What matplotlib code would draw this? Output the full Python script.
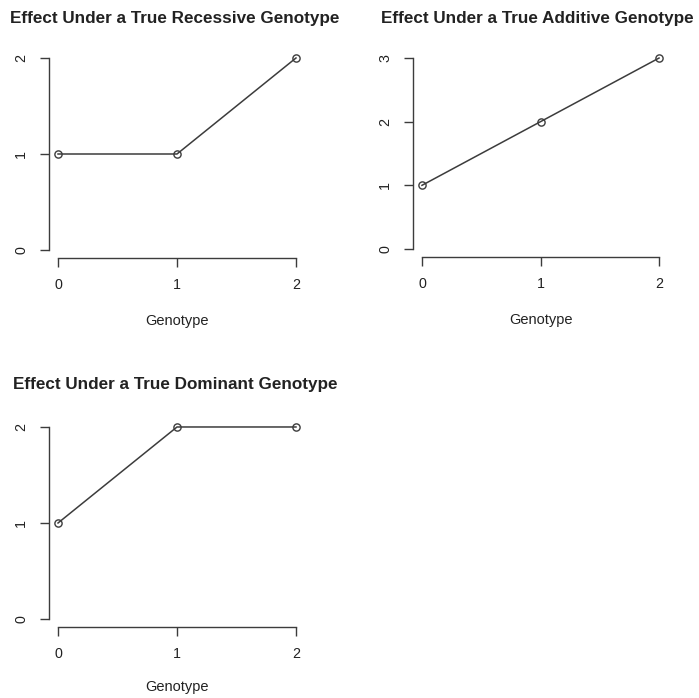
import matplotlib
matplotlib.use("Agg")
import matplotlib.pyplot as plt

plt.rcParams['font.family'] = ['Liberation Sans', 'DejaVu Sans']

genotype = [0, 1, 2]
recessive = [1, 1, 2]
additive = [1, 2, 3]
dominant = [1, 2, 2]

titles = ["Effect Under a True Recessive Genotype",
          "Effect Under a True Additive Genotype",
          "Effect Under a True Dominant Genotype"]
xlabel = "Genotype"

W, H = 699, 698
fig = plt.figure(figsize=(W / 100, H / 100), dpi=100)
fig.patch.set_facecolor('white')

# pixel boxes: left, top, right, bottom
boxes = [(48.5, 50.3, 305.5, 257.7),
         (412.5, 50.4, 668.5, 256.6),
         (48.5, 419.3, 305.5, 626.7)]
title_pads = [19.5, 19.5, 21.5]
title_dx = [-2, -3, -2]
label_pads = [16.0, 16.0, 13.5]
series = [recessive, additive, dominant]

ink = '#3c3c3c'
txt = '#222222'

for (l, t, r, b), title, ys, tp, dx, lp in zip(boxes, titles, series,
                                               title_pads, title_dx, label_pads):
    ax = fig.add_axes([l / W, (H - b) / H, (r - l) / W, (b - t) / H])
    ax.plot(genotype, ys, color=ink, lw=1.1, marker='o', markersize=5.2,
            markerfacecolor='none', markeredgecolor=ink, markeredgewidth=1.0)
    ymax = max(ys)
    ax.set_xlim(-0.08, 2.08)
    ax.set_ylim(-0.04 * ymax, ymax * 1.04)
    ax.set_xticks(genotype)
    ax.set_yticks(list(range(0, ymax + 1)))
    for side in ['top', 'right']:
        ax.spines[side].set_visible(False)
    ax.spines['left'].set_bounds(0, ymax)
    ax.spines['bottom'].set_bounds(0, 2)
    for side in ['left', 'bottom']:
        ax.spines[side].set_color(ink)
        ax.spines[side].set_linewidth(1.0)
    ax.tick_params(axis='both', direction='out', length=6.5, width=1.0,
                   color=ink, labelcolor=txt, labelsize=10.3, pad=8.0)
    for lab in ax.get_yticklabels():
        lab.set_rotation(90)
        lab.set_va('center')
    ax.set_xlabel(xlabel, fontsize=10.5, color=txt, labelpad=lp)
    ttl = ax.set_title(title, fontsize=12.3, fontweight='bold', color=txt, pad=tp)
    ttl.set_x(0.5 + dx / (r - l))

fig.savefig('out.png', dpi=100, facecolor='white')
